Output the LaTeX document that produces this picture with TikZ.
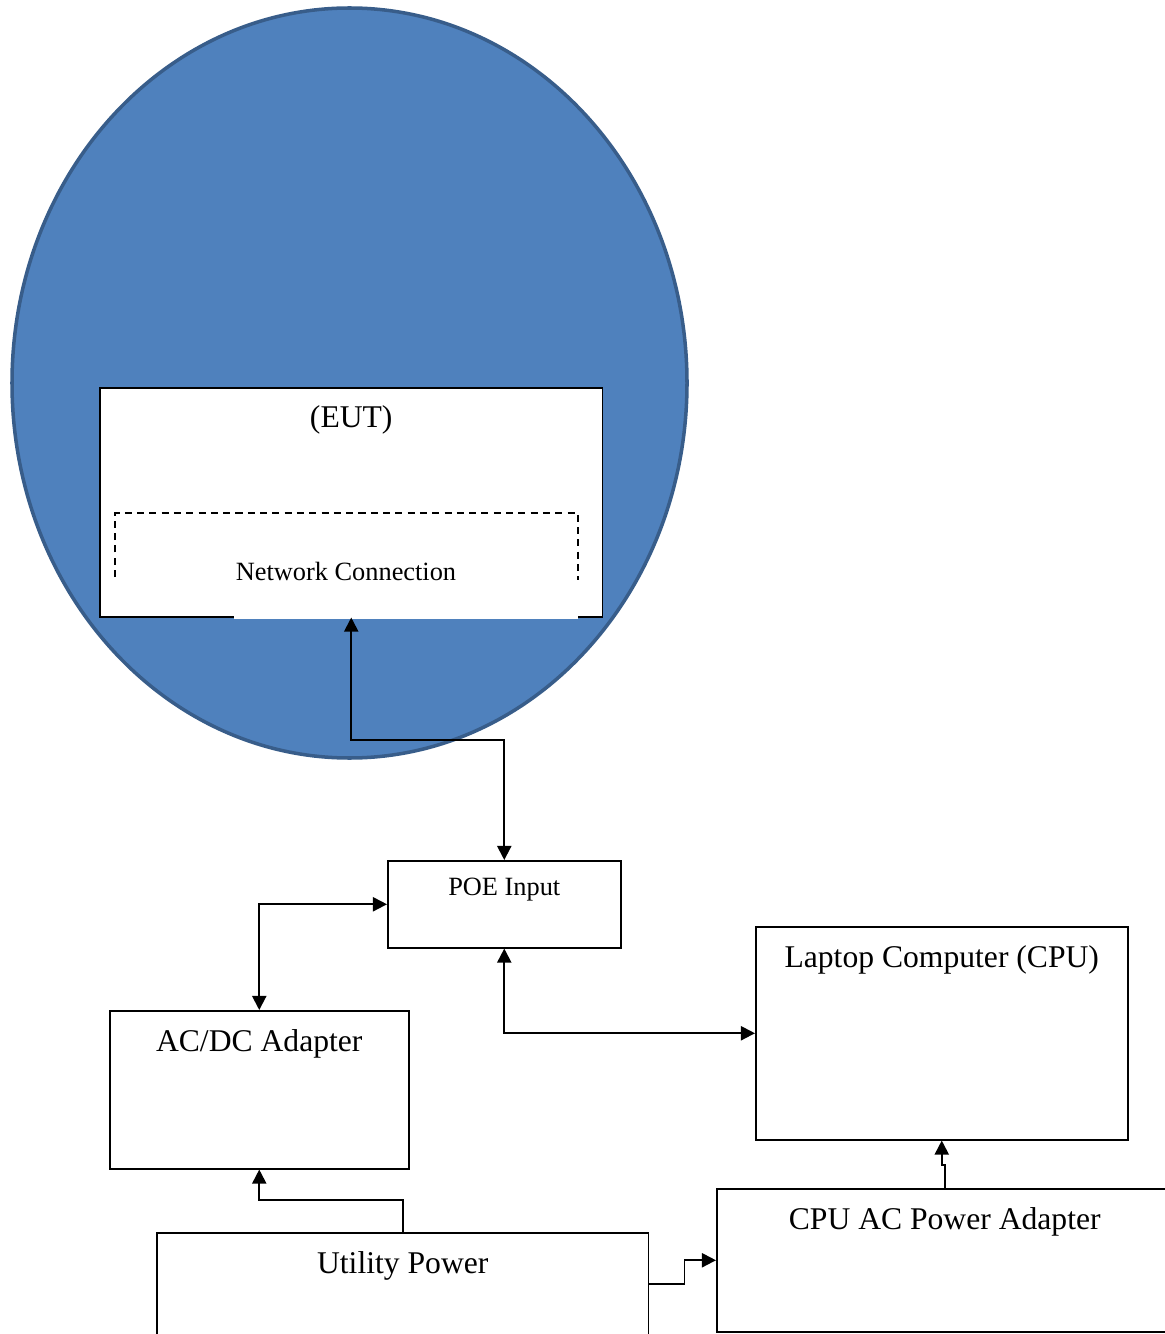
\documentclass[tikz,border=0pt]{standalone}
\usepackage{fontspec}
\setmainfont{Liberation Serif}
\usepackage{tikz}
\usetikzlibrary{positioning,calc,arrows.meta}

\definecolor{zoneblue}{HTML}{4F81BD}
\definecolor{zoneedge}{HTML}{385D8A}

\tikzset{
	blk/.style={draw=black, fill=white, line width=0.9pt, anchor=north west, inner sep=0pt},
	bigtxt/.style={font=\fontsize{18}{20}\selectfont, inner sep=0pt},
	smalltxt/.style={font=\fontsize{15}{17}\selectfont, inner sep=0pt},
	conn/.style={line width=1.1pt, arrows={-Triangle[length=8pt,width=8pt]}},
	conn2/.style={line width=1.1pt, arrows={Triangle[length=8pt,width=8pt]-Triangle[length=8pt,width=8pt]}}
}

\begin{document}
\begin{tikzpicture}[x=0.02cm,y=-0.02cm]
		\useasboundingbox (0,0) rectangle (1165,1334);
		
		% test zone
		\draw[fill=zoneblue, draw=zoneedge, line width=2pt] (349.5,383) ellipse [x radius=337.5, y radius=375];
		
		\node[blk, minimum width=10.06cm, minimum height=4.58cm] (eut) at (99,387) {};
		\node[bigtxt] (euttxt) at ($(eut.north)+(0,33)$) {(EUT)};
		\draw[dashed, dash pattern=on 4pt off 3pt, line width=0.8pt] (115,577) |- (578,513) -- (578,580);
		\fill[white] (233.5,588) rectangle (578,619);
		\node[smalltxt] (netcon) at (346,571) {Network Connection};
		
		\node[blk, minimum width=4.66cm, minimum height=1.74cm] (poe) at (387,860) {};
		\node[smalltxt] (poetxt) at ($(poe.north)+(0,30)$) {POE Input};
		
		\node[blk, minimum width=5.98cm, minimum height=3.16cm] (adc) at (109,1010) {};
		\node[bigtxt] (adctxt) at ($(adc.north)+(0,34)$) {AC/DC Adapter};
		
		\node[blk, minimum width=7.44cm, minimum height=4.26cm] (cpu) at (755,926) {};
		\node[bigtxt] (cputxt) at ($(cpu.north)+(0,34)$) {Laptop Computer (CPU)};
		
		\node[blk, minimum width=9.84cm, minimum height=2.04cm] (util) at (156,1232) {};
		\node[bigtxt] (utiltxt) at ($(util.north)+(0,34)$) {Utility Power};
		
		\node[blk, minimum width=9.12cm, minimum height=2.86cm] (cpuadp) at (716,1188) {};
		\node[bigtxt] (cpuadptxt) at ($(cpuadp.north)+(0,34)$) {CPU AC Power Adapter};
		
		\draw[conn2] (eut.south) -- ++(0,122) -| (poe.north);
		\draw[conn2] (poe.west) -| (adc.north);
		\draw[conn2] (poe.south) |- (cpu.west);
		\draw[conn] (util.north) -- ++(0,-32) -| (adc.south);
		\draw[conn] (util.east) -- ++(35,0) |- (cpuadp.west);
		\draw[conn] (cpuadp.north) -- ++(0,-23) -| (cpu.south);
	\end{tikzpicture}
\end{document}
